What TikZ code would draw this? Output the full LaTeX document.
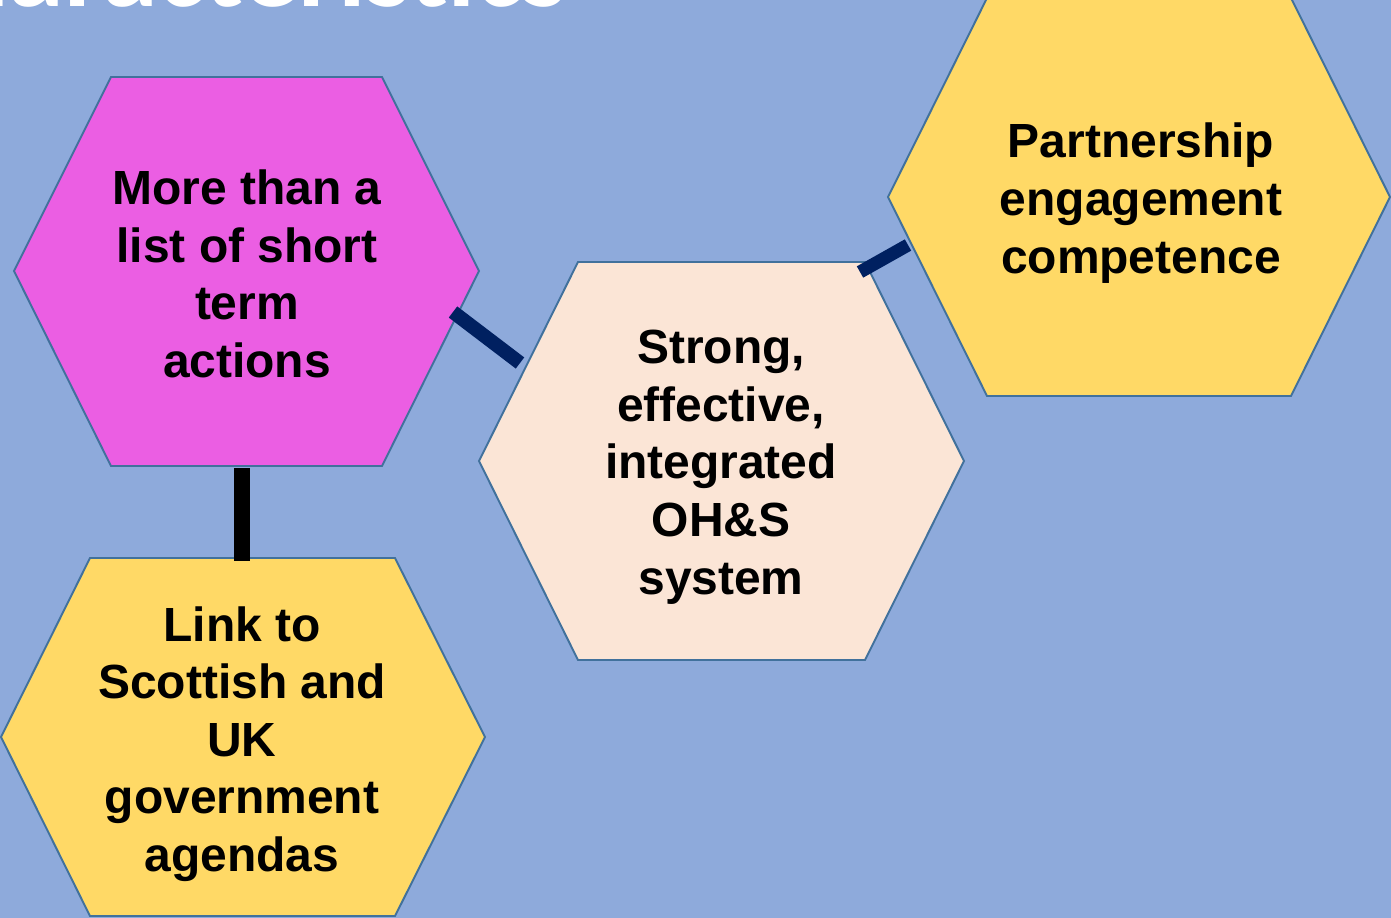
\documentclass[tikz,border=0pt]{standalone}
\usepackage{fontspec}
\setmainfont{Liberation Sans}
\newfontfamily\titlefont{Carlito}
\usepackage{xcolor}
\definecolor{bgblue}{HTML}{8EAADB}
\definecolor{hexpink}{HTML}{EB5EE3}
\definecolor{hexpeach}{HTML}{FBE5D6}
\definecolor{hexyellow}{HTML}{FFD966}
\definecolor{hexedge}{HTML}{41719C}
\definecolor{linknavy}{HTML}{002060}
\tikzset{hex/.style = {draw = hexedge, line width = 1.1pt, line join = miter}}
\tikzset{hex text/.style = {align = center, font = \fontsize{27.3}{32.8}\selectfont\bfseries}}
\tikzset{link/.style = {line width = 0.28cm, draw = linknavy}}

\begin{document}
\begin{tikzpicture}[x = 0.02cm, y = -0.02cm]

  \useasboundingbox (0 , 0) rectangle (1391 , 918);
  \clip (0 , 0) rectangle (1391 , 918);
  \fill [bgblue] (0 , 0) rectangle (1391 , 918);

  \node [anchor = base east, inner sep = 0pt, text = white, font = \titlefont\bfseries\fontsize{64}{70}\selectfont] (title) at (568 , 7) {Characteristics};

  \draw [hex, fill = hexpink] (14 , 271) -- (111 , 77) -- (382 , 77) -- (479 , 271) -- (382 , 466) -- (111 , 466) -- cycle;
  \draw [hex, fill = hexpeach] (479 , 461) -- (578 , 262) -- (865 , 262) -- (964 , 461) -- (865 , 660) -- (578 , 660) -- cycle;
  \draw [hex, fill = hexyellow] (888 , 197) -- (987 , -2) -- (1291 , -2) -- (1390 , 197) -- (1291 , 396) -- (987 , 396) -- cycle;
  \draw [hex, fill = hexyellow] (1 , 737) -- (90 , 558) -- (395 , 558) -- (485 , 737) -- (395 , 916) -- (90 , 916) -- cycle;

  \node [hex text] (actions) at (247 , 274) {More than a\\list of short\\term\\actions};
  \node [hex text] (system) at (721 , 467) {Strong,\\effective,\\integrated\\OH\&S\\system};
  \node [hex text] (partnership) at (1141 , 203) {Partnership\\engagement\\competence};
  \node [hex text] (agendas) at (242 , 744) {Link to\\Scottish and\\UK\\government\\agendas};

  \coordinate (actions-r) at (453 , 312);
  \coordinate (system-l) at (520 , 363);
  \coordinate (system-r) at (860 , 272);
  \coordinate (partnership-l) at (908 , 245);
  \coordinate (actions-b) at (242 , 468);
  \coordinate (agendas-t) at (242 , 561);

  \draw [link] (actions-r) -- (system-l);
  \draw [link, line width = 0.26cm] (system-r) -- (partnership-l);
  \draw [link, draw = black, line width = 0.32cm] (actions-b) -- (agendas-t);

\end{tikzpicture}
\end{document}
